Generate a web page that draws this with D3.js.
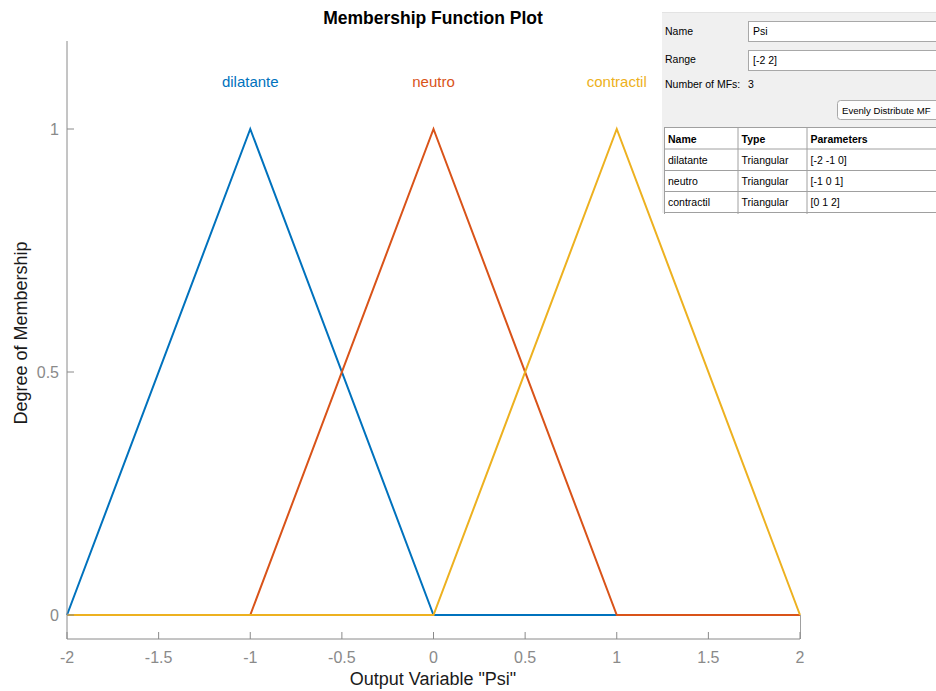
<!DOCTYPE html>
<html>
<head>
<meta charset="utf-8">
<script src="https://cdn.jsdelivr.net/npm/d3@7"></script>
<style>
  html, body { margin: 0; padding: 0; background: #fff; }
  svg { display: block; }
</style>
</head>
<body>
<svg id="chart" width="936" height="691"></svg>
<script>
// ---- data ----
const mfNames = ["dilatante", "neutro", "contractil"];
const mfTypes = ["Triangular", "Triangular", "Triangular"];
const mfParams = [[-2, -1, 0], [-1, 0, 1], [0, 1, 2]];
const mfColors = ["#0072BD", "#D95319", "#EDB120"];
const xTicks = [-2, -1.5, -1, -0.5, 0, 0.5, 1, 1.5, 2];
const yTicks = [0, 0.5, 1];
const xRange = [-2, 2];
const varName = "Psi";

const svg = d3.select("#chart");
const font = "'Liberation Sans', Arial, Helvetica, sans-serif";

// ---- scales ----
const x = d3.scaleLinear().domain(xRange).range([67, 800]);
const y = d3.scaleLinear().domain([0, 1]).range([615, 129]);
const axTop = 41, axBottom = 639;
const axisGray = "#8a8a8a";

// ---- lines (each MF sampled over the range at its breakpoints) ----
function mfPoints(p) {
  const pts = [[xRange[0], 0]];
  if (p[0] > xRange[0]) pts.push([p[0], 0]);
  pts.push([p[1], 1]);
  if (p[2] < xRange[1]) pts.push([p[2], 0]);
  pts.push([xRange[1], 0]);
  return pts;
}
const line = d3.line().x(d => x(d[0])).y(d => y(d[1]));
const gLines = svg.append("g");
mfParams.forEach((p, i) => {
  gLines.append("path")
    .attr("d", line(mfPoints(p)))
    .attr("fill", "none")
    .attr("stroke", mfColors[i])
    .attr("stroke-width", 2)
    .attr("stroke-linejoin", "miter");
});

// ---- axes ----
const gAx = svg.append("g").attr("font-family", font);
gAx.append("line").attr("x1", 67).attr("x2", 67).attr("y1", axTop).attr("y2", axBottom)
  .attr("stroke", axisGray).attr("stroke-width", 1);
gAx.append("line").attr("x1", 67).attr("x2", 800).attr("y1", axBottom).attr("y2", axBottom)
  .attr("stroke", axisGray).attr("stroke-width", 1);
gAx.append("line").attr("x1", 800.5).attr("x2", 800.5).attr("y1", y(0)).attr("y2", axBottom)
  .attr("stroke", "#a0a0a0").attr("stroke-width", 1);

xTicks.forEach(t => {
  gAx.append("line").attr("x1", x(t)).attr("x2", x(t)).attr("y1", axBottom).attr("y2", axBottom - 7)
    .attr("stroke", axisGray);
  gAx.append("text").attr("x", x(t)).attr("y", 663).attr("text-anchor", "middle")
    .attr("font-size", 16).attr("fill", "#8a8a8a").text(t);
});
yTicks.forEach(t => {
  gAx.append("line").attr("x1", 67).attr("x2", 74).attr("y1", y(t)).attr("y2", y(t))
    .attr("stroke", axisGray);
  gAx.append("text").attr("x", 59).attr("y", y(t) + 6).attr("text-anchor", "end")
    .attr("font-size", 16).attr("fill", "#8a8a8a").text(t);
});

// ---- MF labels ----
mfParams.forEach((p, i) => {
  svg.append("text").attr("x", x(p[1])).attr("y", 87).attr("text-anchor", "middle")
    .attr("font-family", font).attr("font-size", 15).attr("fill", mfColors[i]).text(mfNames[i]);
});

// ---- titles ----
svg.append("text").attr("x", 433).attr("y", 24).attr("text-anchor", "middle")
  .attr("font-family", font).attr("font-size", 17.5).attr("font-weight", "bold").attr("fill", "#000")
  .text("Membership Function Plot");
svg.append("text").attr("x", 433).attr("y", 685).attr("text-anchor", "middle")
  .attr("font-family", font).attr("font-size", 18).attr("fill", "#1a1a1a")
  .text('Output Variable "' + varName + '"');
svg.append("text").attr("transform", "translate(27,333) rotate(-90)").attr("text-anchor", "middle")
  .attr("font-family", font).attr("font-size", 18).attr("fill", "#1a1a1a")
  .text("Degree of Membership");

// ---- right panel ----
const pf = "Arial, 'Liberation Sans', sans-serif";
const panel = svg.append("g").attr("font-family", pf).attr("font-size", 10.5).attr("fill", "#000");
panel.append("rect").attr("x", 662).attr("y", 12).attr("width", 274).attr("height", 201).attr("fill", "#f0f0f0");
panel.append("line").attr("x1", 662).attr("x2", 936).attr("y1", 12.5).attr("y2", 12.5).attr("stroke", "#e3e3e3");

panel.append("text").attr("x", 665).attr("y", 35).text("Name");
panel.append("rect").attr("x", 748.5).attr("y", 21.5).attr("width", 200).attr("height", 20)
  .attr("fill", "#fff").attr("stroke", "#a8a8a8");
panel.append("text").attr("x", 753).attr("y", 35).text(varName);

panel.append("text").attr("x", 665).attr("y", 63).text("Range");
panel.append("rect").attr("x", 748.5).attr("y", 50.5).attr("width", 200).attr("height", 20)
  .attr("fill", "#fff").attr("stroke", "#a8a8a8");
panel.append("text").attr("x", 753).attr("y", 64).text("[" + xRange.join(" ") + "]");

panel.append("text").attr("x", 665).attr("y", 88).text("Number of MFs:");
panel.append("text").attr("x", 748).attr("y", 88).text(mfNames.length);

panel.append("rect").attr("x", 837.5).attr("y", 100.5).attr("width", 120).attr("height", 19).attr("rx", 3)
  .attr("fill", "#fdfdfd").attr("stroke", "#a8a8a8");
panel.append("text").attr("x", 842).attr("y", 114).attr("font-size", 9.6)
  .text("Evenly Distribute MF");

// table
const colX = [664, 737.5, 806.5, 936];
const rowY = [127, 148.5, 170, 191, 212];
panel.append("rect").attr("x", colX[0]).attr("y", rowY[0]).attr("width", 936 - colX[0]).attr("height", rowY[4] - rowY[0])
  .attr("fill", "#fff");
rowY.forEach(r => {
  panel.append("line").attr("x1", colX[0]).attr("x2", 936).attr("y1", r + 0.5).attr("y2", r + 0.5)
    .attr("stroke", "#a0a0a0");
});
colX.slice(0, 3).forEach(c => {
  panel.append("line").attr("x1", c + 0.5).attr("x2", c + 0.5).attr("y1", rowY[0]).attr("y2", rowY[4] + 2)
    .attr("stroke", "#a0a0a0");
});
const headers = ["Name", "Type", "Parameters"];
headers.forEach((h, j) => {
  panel.append("text").attr("x", colX[j] + 4).attr("y", 143).attr("font-weight", "bold").text(h);
});
mfNames.forEach((n, i) => {
  const by = 164 + i * 21;
  panel.append("text").attr("x", colX[0] + 4).attr("y", by).text(n);
  panel.append("text").attr("x", colX[1] + 4).attr("y", by).text(mfTypes[i]);
  panel.append("text").attr("x", colX[2] + 4).attr("y", by).text("[" + mfParams[i].join(" ") + "]");
});
</script>
</body>
</html>
